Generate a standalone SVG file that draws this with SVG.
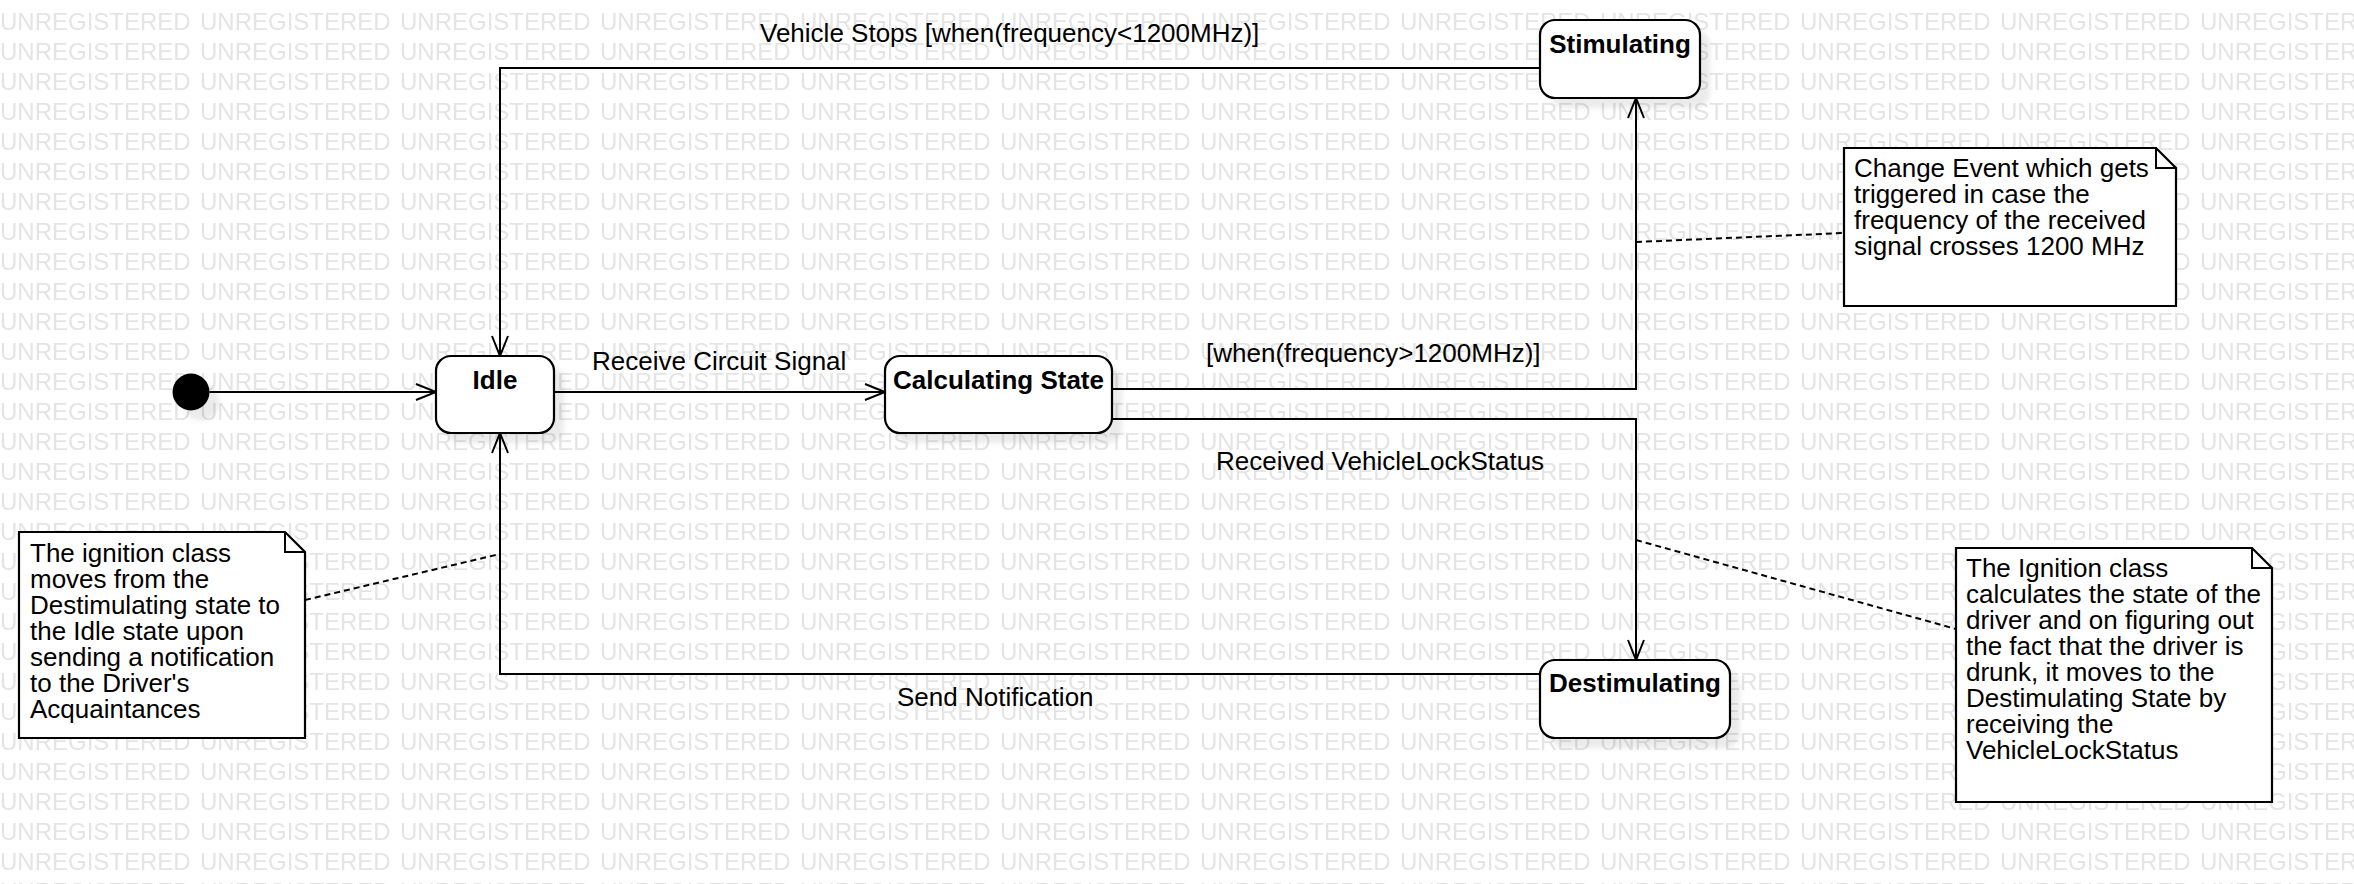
<svg xmlns="http://www.w3.org/2000/svg" width="2354" height="884" viewBox="0 0 2354 884">
  <defs>
    <style>
      .wm { font-family: "Liberation Sans", Arial, sans-serif; font-size: 24px; fill: #e4e4e4; }
      .state { fill: #ffffff; stroke: #000000; stroke-width: 2.2; }
      .shadow { fill: #000000; fill-opacity: 0.08; filter: url(#blur); }
      .sname { font-family: "Liberation Sans", Arial, sans-serif; font-size: 26px; font-weight: bold; fill: #000000; text-anchor: middle; }
      .lbl { font-family: "Liberation Sans", Arial, sans-serif; font-size: 26px; fill: #000000; }
      .conn { fill: none; stroke: #000000; stroke-width: 2; marker-end: url(#arr); }
      .note { fill: #ffffff; stroke: #000000; stroke-width: 2.2; }
      .fold { fill: none; stroke: #000000; stroke-width: 2; }
      .anchor { fill: none; stroke: #000000; stroke-width: 2; stroke-dasharray: 6 4; }
    </style>
    <pattern id="wm" patternUnits="userSpaceOnUse" x="0" y="10" width="200" height="30">
      <text class="wm" x="0" y="19.5">UNREGISTERED</text>
    </pattern>
    <filter id="blur" x="-20%" y="-20%" width="140%" height="140%">
      <feGaussianBlur stdDeviation="2.5"/>
    </filter>
    <marker id="arr" markerUnits="userSpaceOnUse" viewBox="-23 -11 26 22" markerWidth="26" markerHeight="22" refX="0" refY="0" orient="auto" overflow="visible">
      <path d="M-20,-8 L0,0 L-20,8" fill="none" stroke="#000000" stroke-width="2"/>
    </marker>
  </defs>

  <rect x="0" y="0" width="2354" height="884" fill="#ffffff"/>
  <rect x="0" y="0" width="2354" height="884" fill="url(#wm)"/>

  <g id="connectors">
    <line class="conn" x1="209.5" y1="392" x2="436" y2="392"/>
    <line class="conn" x1="554" y1="392" x2="885" y2="392"/>
    <polyline class="conn" points="1112,389 1636,389 1636,98"/>
    <polyline class="conn" points="1112,419 1636,419 1636,660"/>
    <polyline class="conn" points="1540,68 500,68 500,356"/>
    <polyline class="conn" points="1540,674 500,674 500,433"/>
    <text class="lbl" x="592" y="370">Receive Circuit Signal</text>
    <text class="lbl" x="1206" y="362">[when(frequency&gt;1200MHz)]</text>
    <text class="lbl" x="1216" y="470">Received VehicleLockStatus</text>
    <text class="lbl" x="760" y="42">Vehicle Stops [when(frequency&lt;1200MHz)]</text>
    <text class="lbl" x="897" y="706">Send Notification</text>
    <line class="anchor" x1="305" y1="600" x2="500" y2="554"/>
    <line class="anchor" x1="1636" y1="242" x2="1844" y2="233"/>
    <line class="anchor" x1="1636" y1="540" x2="1956" y2="629"/>
  </g>

  <g id="initial">
    <circle class="shadow" cx="201" cy="402" r="18.5"/>
    <circle cx="191" cy="392" r="18.5" fill="#000000"/>
  </g>

  <g id="idle">
    <rect class="shadow" x="446" y="366" width="118" height="77" rx="15"/>
    <rect class="state" x="436" y="356" width="118" height="77" rx="15"/>
    <text class="sname" x="495" y="389">Idle</text>
  </g>

  <g id="calculating">
    <rect class="shadow" x="895" y="366" width="227" height="77" rx="15"/>
    <rect class="state" x="885" y="356" width="227" height="77" rx="15"/>
    <text class="sname" x="998.5" y="389">Calculating State</text>
  </g>

  <g id="stimulating">
    <rect class="shadow" x="1550" y="30" width="160" height="78" rx="15"/>
    <rect class="state" x="1540" y="20" width="160" height="78" rx="15"/>
    <text class="sname" x="1620" y="53">Stimulating</text>
  </g>

  <g id="destimulating">
    <rect class="shadow" x="1550" y="670" width="190" height="78" rx="15"/>
    <rect class="state" x="1540" y="660" width="190" height="78" rx="15"/>
    <text class="sname" x="1635" y="692">Destimulating</text>
  </g>

  <g id="note-idle">
    <path class="note" d="M19,532 L285,532 L305,552 L305,738 L19,738 Z"/>
    <path class="fold" d="M285,532 L285,552 L305,552"/>
    <text class="lbl" x="30" y="562">The ignition class</text>
    <text class="lbl" x="30" y="588">moves from the</text>
    <text class="lbl" x="30" y="614">Destimulating state to</text>
    <text class="lbl" x="30" y="640">the Idle state upon</text>
    <text class="lbl" x="30" y="666">sending a notification</text>
    <text class="lbl" x="30" y="692">to the Driver's</text>
    <text class="lbl" x="30" y="718">Acquaintances</text>
  </g>

  <g id="note-change-event">
    <path class="note" d="M1844,148 L2156,148 L2176,168 L2176,306 L1844,306 Z"/>
    <path class="fold" d="M2156,148 L2156,168 L2176,168"/>
    <text class="lbl" x="1854" y="177">Change Event which gets</text>
    <text class="lbl" x="1854" y="203">triggered in case the</text>
    <text class="lbl" x="1854" y="229">frequency of the received</text>
    <text class="lbl" x="1854" y="255">signal crosses 1200 MHz</text>
  </g>

  <g id="note-destimulating">
    <path class="note" d="M1956,548 L2252,548 L2272,568 L2272,802 L1956,802 Z"/>
    <path class="fold" d="M2252,548 L2252,568 L2272,568"/>
    <text class="lbl" x="1966" y="577">The Ignition class</text>
    <text class="lbl" x="1966" y="603">calculates the state of the</text>
    <text class="lbl" x="1966" y="629">driver and on figuring out</text>
    <text class="lbl" x="1966" y="655">the fact that the driver is</text>
    <text class="lbl" x="1966" y="681">drunk, it moves to the</text>
    <text class="lbl" x="1966" y="707">Destimulating State by</text>
    <text class="lbl" x="1966" y="733">receiving the</text>
    <text class="lbl" x="1966" y="759">VehicleLockStatus</text>
  </g>
</svg>
